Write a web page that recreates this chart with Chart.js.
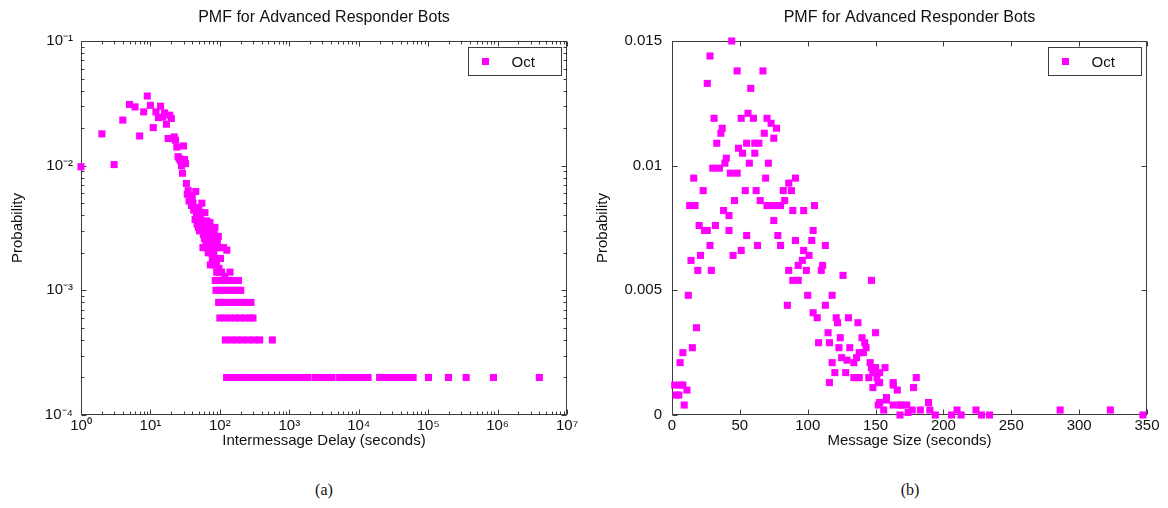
<!DOCTYPE html>
<html><head><meta charset="utf-8">
<script src="https://cdn.jsdelivr.net/npm/chart.js@4.4.0/dist/chart.umd.min.js"></script>
<style>
html,body{margin:0;padding:0;background:#fff;width:1168px;height:508px;overflow:hidden;}
#c1{position:absolute;left:0;top:0;}
#c2{position:absolute;left:584px;top:0;}
.cap{position:absolute;top:481px;width:60px;text-align:center;font-family:'Liberation Serif','DejaVu Serif',serif;font-size:16px;color:#111;line-height:18px;}
</style></head><body>
<canvas id="c1" width="584" height="462"></canvas>
<canvas id="c2" width="584" height="462"></canvas>
<div class="cap" style="left:294px">(a)</div>
<div class="cap" style="left:880px">(b)</div>
<script>
const seriesLabel = 'Oct';
const titleA = 'PMF for Advanced Responder Bots';
const titleB = 'PMF for Advanced Responder Bots';
const xTitleA = 'Intermessage Delay (seconds)';
const xTitleB = 'Message Size (seconds)';
const yTitle = 'Probability';

// (a) intermessage delay PMF
const delayX = [
  1,2,3,4,5,6,7,8,9,10,11,12,13,14,15,16,17,18,19,20,21,22,23,24,25,26,27,28,29,30,31,32,
  33,34,35,36,38,39,40,41,42,43,44,45,46,47,48,49,50,51,52,53,54,55,56,57,58,59,60,61,62,63,64,65,
  66,67,68,69,70,71,72,73,74,75,76,77,78,79,80,81,82,83,84,85,87,89,90,91,92,93,95,97,98,99,102,106,110,113,118,126,140,
  86,100,116,135,152,185,
  88,102,118,137,158,180,200,
  96,104,122,143,168,197,228,280,
  100,118,140,165,195,230,270,300,
  120,145,175,210,255,310,375,570,
  125,152,185,226,276,336,410,500,610,745,910,1110,1350,1650,1866,
  2390,2900,3500,4140,
  5310,6450,7850,9500,11500,13650,
  20000,24300,29500,35800,43500,52000,60800,
  101000,196000,353000,873000,4000000
];
const delayProb = [
  0.0098,0.018,0.0102,0.0232,0.031,0.0296,0.0173,0.027,0.0362,0.0305,0.0202,0.027,0.0243,0.030,0.0245,0.0265,0.0215,0.0165,0.0254,0.0239,0.0165,0.017,0.016,0.0141,0.0118,0.0114,0.011,0.0100,0.0087,0.0144,0.0112,0.0104,
  0.0072,0.0059,0.0063,0.0052,0.0058,0.0048,0.0055,0.005,0.0044,0.0046,0.0037,0.0062,0.004,0.0034,0.0046,0.0032,0.0044,0.003,0.0038,0.0034,0.0042,0.005,0.0036,0.0022,0.0028,0.0032,0.0026,0.0042,0.0034,0.0024,0.003,0.0036,
  0.0022,0.0028,0.002,0.0026,0.0032,0.0024,0.0035,0.0016,0.0028,0.002,0.0022,0.0026,0.0018,0.003,0.0024,0.0016,0.002,0.0028,0.0018,0.0032,0.0022,0.0016,0.0014,0.0018,0.0024,0.0012,0.0027,0.0015,0.0014,0.0022,0.0018,0.0014,0.0012,0.0022,0.0013,0.0021,0.0014,
  0.0012,0.0012,0.0012,0.0012,0.0012,0.0012,
  0.001,0.001,0.001,0.001,0.001,0.001,0.001,
  0.0008,0.0008,0.0008,0.0008,0.0008,0.0008,0.0008,0.0008,
  0.0006,0.0006,0.0006,0.0006,0.0006,0.0006,0.0006,0.0006,
  0.0004,0.0004,0.0004,0.0004,0.0004,0.0004,0.0004,0.0004,
  0.0002,0.0002,0.0002,0.0002,0.0002,0.0002,0.0002,0.0002,0.0002,0.0002,0.0002,0.0002,0.0002,0.0002,0.0002,
  0.0002,0.0002,0.0002,0.0002,
  0.0002,0.0002,0.0002,0.0002,0.0002,0.0002,
  0.0002,0.0002,0.0002,0.0002,0.0002,0.0002,0.0002,
  0.0002,0.0002,0.0002,0.0002,0.0002
];

// (b) message size PMF
const sizeX = [
  44,28,48,67,26,58,31,51,56,60,70,73,77,37,36,68,75,33,55,61,64,49,52,61,40,39,30,35,57,71,
  43,48,69,91,16,86,23,54,62,82,88,46,65,83,13,17,70,72,75,77,80,105,89,97,38,42,75,
  20,32,24,26,42,104,55,78,28,63,80,91,103,113,51,97,21,45,101,14,96,93,111,
  19,29,86,99,110,126,89,93,147,12,100,118,85,113,104,107,121,122,130,137,
  18,115,150,140,124,108,116,123,131,142,143,15,8,125,129,134,138,118,146,6,
  120,128,134,138,145,148,153,157,152,148,116,2,6,8,11,3,5,9,
  163,166,152,158,163,168,173,156,168,174,141,136,147,150,136,151,153,163,180,178,
  158,153,169,177,183,189,190,194,206,210,213,224,228,234,286,323,347
];
const sizeProb = [
  0.0150,0.0144,0.0138,0.0138,0.0133,0.0131,0.0119,0.0119,0.0121,0.0119,0.0119,0.0117,0.0115,0.0115,0.0113,0.0113,0.0111,0.0109,0.0109,0.0109,0.0109,0.0107,0.0105,0.0105,0.0103,0.0101,0.0099,0.0099,0.0101,0.0101,
  0.0097,0.0097,0.0095,0.0095,0.0095,0.0093,0.0090,0.0090,0.0090,0.0090,0.0090,0.0086,0.0086,0.0086,0.0084,0.0084,0.0084,0.0084,0.0084,0.0084,0.0084,0.0084,0.0082,0.0082,0.0082,0.0080,0.0078,
  0.0076,0.0076,0.0074,0.0074,0.0074,0.0074,0.0072,0.0072,0.0068,0.0068,0.0068,0.0070,0.0070,0.0068,0.0066,0.0066,0.0064,0.0064,0.0064,0.0062,0.0062,0.0060,0.0060,
  0.0058,0.0058,0.0058,0.0058,0.0058,0.0056,0.0054,0.0054,0.0054,0.0048,0.0048,0.0048,0.0044,0.0044,0.0041,0.0039,0.0039,0.0037,0.0039,0.0037,
  0.0035,0.0033,0.0033,0.0031,0.0031,0.0029,0.0029,0.0027,0.0027,0.0029,0.0027,0.0027,0.0025,0.0023,0.0022,0.0021,0.0025,0.0021,0.0021,0.0021,
  0.0017,0.0017,0.0015,0.0015,0.0015,0.0017,0.0017,0.0019,0.0013,0.0011,0.0013,0.0012,0.0012,0.0012,0.0010,0.0008,0.0008,0.0004,
  0.0012,0.0010,0.0004,0.0006,0.0004,0.0004,0.0004,0.0002,0,0.0001,0.0025,0.0023,0.0019,0.0019,0.0015,0.0015,0.0013,0.0013,0.0015,0.0011,
  0.0007,0.0005,0.0004,0.0002,0.0002,0.0005,0.0002,0,0,0.0002,0,0.0002,0,0,0.0002,0.0002,0
];

const delayXTicks = [1,10,100,1000,10000,100000,1000000,10000000];
const delayXTickLabels = ['10⁰','10¹','10²','10³','10⁴','10⁵','10⁶','10⁷'];
const delayYTicks = [0.0001,0.001,0.01,0.1];
const delayYTickLabels = ['10⁻⁴','10⁻³','10⁻²','10⁻¹'];
const sizeXTicks = [0,50,100,150,200,250,300,350];
const sizeXTickLabels = ['0','50','100','150','200','250','300','350'];
const sizeYTicks = [0,0.005,0.01,0.015];
const sizeYTickLabels = ['0','0.005','0.01','0.015'];

const FONT = "'Liberation Sans', Arial, Helvetica, sans-serif";
const TEXT = '#111';
const AXIS = '#3c3c3c';
const MARK = '#ff00ff';
Chart.defaults.font.family = FONT;
Chart.defaults.color = TEXT;

function minorValues(scale){
  const out = [];
  if (scale.type !== 'logarithmic') return out;
  const e0 = Math.floor(Math.log10(scale.min)), e1 = Math.ceil(Math.log10(scale.max));
  for (let e = e0; e < e1; e++) for (let k = 2; k <= 9; k++) {
    const v = k * Math.pow(10, e);
    if (v > scale.min && v < scale.max) out.push(v);
  }
  return out;
}

const framePlugin = {
  id: 'frame',
  beforeDatasetsDraw(chart){
    const {ctx, chartArea: a, scales: {x, y}} = chart;
    const L = Math.round(a.left) + 0.5, R = Math.round(a.right) - 0.5;
    const T = Math.round(a.top) + 0.5, B = Math.round(a.bottom) - 0.5;
    ctx.save();
    ctx.strokeStyle = AXIS; ctx.lineWidth = 1;
    ctx.strokeRect(L, T, R - L, B - T);
    ctx.beginPath();
    const tickX = (v, len) => { const p = Math.round(x.getPixelForValue(v)) + 0.5; ctx.moveTo(p, B); ctx.lineTo(p, B - len); ctx.moveTo(p, T); ctx.lineTo(p, T + len); };
    const tickY = (v, len) => { const p = Math.round(y.getPixelForValue(v)) + 0.5; ctx.moveTo(L, p); ctx.lineTo(L + len, p); ctx.moveTo(R, p); ctx.lineTo(R - len, p); };
    x.ticks.forEach(t => tickX(t.value, 5));
    minorValues(x).forEach(v => tickX(v, 3));
    y.ticks.forEach(t => tickY(t.value, 5));
    minorValues(y).forEach(v => tickY(v, 3));
    ctx.stroke();
    ctx.restore();
  }
};

const legendPlugin = {
  id: 'boxLegend',
  afterDatasetsDraw(chart, args, opts){
    const {ctx, chartArea: a} = chart;
    const w = opts.width, h = opts.height;
    const bx = Math.round(a.right - opts.right - w) + 0.5, by = Math.round(a.top + opts.top) + 0.5;
    const ds = chart.data.datasets[0];
    ctx.save();
    ctx.fillStyle = '#fff'; ctx.fillRect(bx, by, w, h);
    ctx.strokeStyle = AXIS; ctx.lineWidth = 1; ctx.strokeRect(bx, by, w, h);
    ctx.fillStyle = ds.pointBackgroundColor;
    ctx.fillRect(Math.round(bx + opts.markX - 3.5), Math.round(by + h / 2 - 3.5), 7, 7);
    ctx.fillStyle = TEXT; ctx.font = '15px ' + FONT; ctx.textAlign = 'left'; ctx.textBaseline = 'middle';
    ctx.fillText(ds.label, bx + opts.textX, by + h / 2 + 1);
    ctx.restore();
  }
};

const titlePlugin = {
  id: 'axTitle',
  afterDraw(chart, args, opts){
    const {ctx, chartArea: a} = chart;
    ctx.save();
    ctx.fillStyle = TEXT; ctx.font = '16px ' + FONT; ctx.textAlign = 'center'; ctx.textBaseline = 'middle';
    ctx.fillText(opts.text, (a.left + a.right) / 2, opts.y);
    ctx.restore();
  }
};

function axis(type, min, max, ticks, labels, title, extra){
  return Object.assign({
    type, min, max,
    afterBuildTicks: s => { s.ticks = ticks.map(v => ({value: v})); },
    grid: {display: false, drawTicks: false},
    border: {display: false},
    ticks: {autoSkip: false, maxRotation: 0, minRotation: 0, color: TEXT, font: {size: 15}, callback: (v, i) => labels[i]},
    title: {display: true, text: title, color: TEXT, font: {size: 15}}
  }, extra);
}

function makeChart(id, xs, ys, scales, padRight, title){
  return new Chart(document.getElementById(id), {
    type: 'scatter',
    data: {datasets: [{
      label: seriesLabel,
      data: xs.map((x, i) => ({x: x, y: ys[i]})),
      pointStyle: 'rect', pointRadius: 5, pointHoverRadius: 5,
      pointBackgroundColor: MARK, pointBorderWidth: 0, borderWidth: 0,
      showLine: false, clip: false
    }]},
    options: {
      responsive: false, animation: false, events: [],
      layout: {padding: {top: 41, right: padRight, left: 0, bottom: 0}},
      scales: scales,
      plugins: {
        legend: {display: false}, tooltip: {enabled: false},
        axTitle: {text: title, y: 18},
        boxLegend: {width: 93, height: 28, right: 6, top: 6, markX: 17, textX: 43}
      }
    },
    plugins: [framePlugin, legendPlugin, titlePlugin]
  });
}

const xFit = {position: 'bottom', afterFit: s => { s.height = 47; }};
makeChart('c1', delayX, delayProb, {
  x: axis('logarithmic', 1, 10000000, delayXTicks, delayXTickLabels, xTitleA, xFit),
  y: axis('logarithmic', 0.0001, 0.1, delayYTicks, delayYTickLabels, yTitle, {position: 'left', afterFit: s => { s.width = 81; }})
}, 17, titleA);

makeChart('c2', sizeX, sizeProb, {
  x: axis('linear', 0, 350, sizeXTicks, sizeXTickLabels, xTitleB, xFit),
  y: axis('linear', 0, 0.015, sizeYTicks, sizeYTickLabels, yTitle, {position: 'left', afterFit: s => { s.width = 88; }})
}, 21, titleB);

[Chart.getChart('c1'), Chart.getChart('c2')].forEach((c, k) => {
  c.options.scales.x.ticks.padding = 2;
  c.options.scales.x.title.padding = {top: 0, bottom: 12};
  c.options.scales.y.ticks.padding = k === 0 ? 8 : 10;
  c.options.scales.y.title.padding = {top: k === 0 ? 9 : 10, bottom: 0};
  c.update('none');
});
</script>
</body></html>
